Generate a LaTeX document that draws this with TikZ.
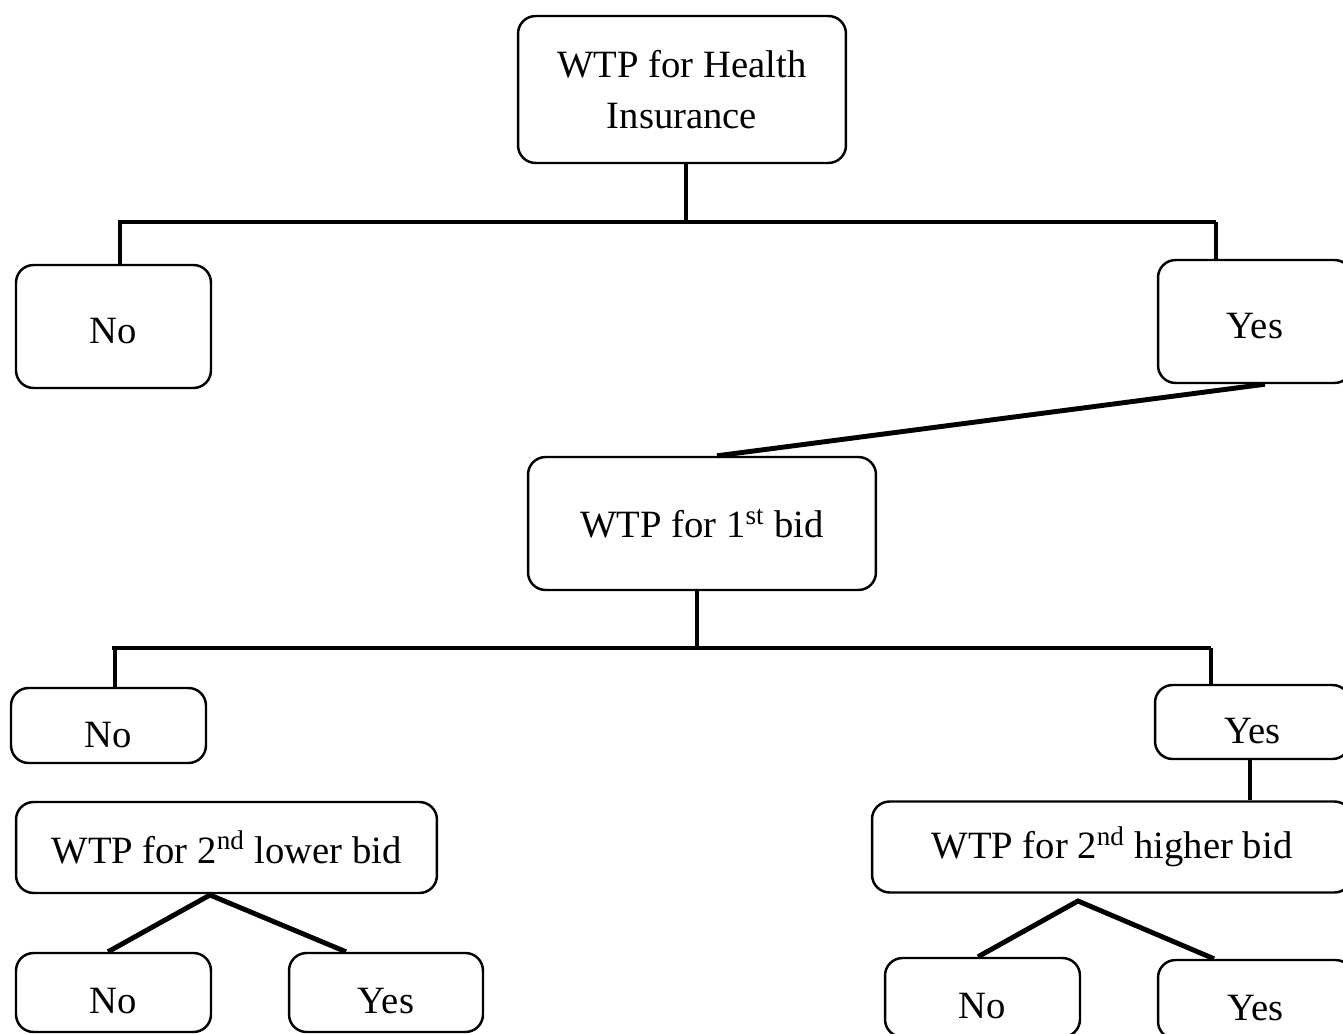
\documentclass[tikz,border=0pt]{standalone}
\usepackage{fontspec}
\setmainfont{Liberation Serif}
\usetikzlibrary{calc}

\tikzset{
    box/.style={draw, line width=1.4pt, rounded corners=10pt, inner sep=0pt,
        align=center, font=\fontsize{22}{29.5}\selectfont},
    dn/.style={text height=#1, text depth=0pt},
    link/.style={line width=2.8pt}
}

\begin{document}
\begin{tikzpicture}[x=0.02cm, y=-0.02cm]

            \useasboundingbox (0,0) rectangle (1343,1034);

            % Top question
            \node[box, minimum width=6.56cm, minimum height=2.94cm] (top) at (682,89.5) {WTP for Health\\Insurance};

            % First answers
            \node[box, dn=19pt, minimum width=3.9cm, minimum height=2.46cm] (no1) at (113.5,326.5) {No};
            \node[box, dn=19pt, minimum width=3.88cm, minimum height=2.46cm] (yes1) at (1255,321.5) {Yes};

            % First bid
            \node[box, minimum width=6.96cm, minimum height=2.66cm] (bid1) at (702,523.5) {WTP for 1\textsuperscript{st} bid};

            % Answers to first bid
            \node[box, dn=25.5pt, minimum width=3.9cm, minimum height=1.5cm] (no2) at (108.5,725.5) {No};
            \node[box, dn=25pt, minimum width=3.9cm, minimum height=1.48cm] (yes2) at (1252.5,722) {Yes};

            % Second bids
            \node[box, minimum width=8.42cm, minimum height=1.82cm] (low) at (226.5,847.5) {WTP for 2\textsuperscript{nd} lower bid};
            \node[box, minimum width=9.6cm, minimum height=1.82cm] (high) at (1112,847) {WTP for 2\textsuperscript{nd} higher bid};

            % Final answers
            \node[box, dn=23.5pt, minimum width=3.9cm, minimum height=1.58cm] (no3) at (113.5,992.5) {No};
            \node[box, dn=23.5pt, minimum width=3.88cm, minimum height=1.58cm] (yes3) at (386,992.5) {Yes};
            \node[box, dn=23.5pt, minimum width=3.9cm, minimum height=1.58cm] (no4) at (982.5,997.5) {No};
            \node[box, dn=23.5pt, minimum width=3.9cm, minimum height=1.58cm] (yes4) at (1255.5,999.5) {Yes};

            % Bar under the top question
            \coordinate (t1) at (686,0);
            \coordinate (b1l) at (120,222);
            \coordinate (b1r) at (1216,222);
            \draw[link] (t1 |- top.south) -- (t1 |- b1l);
            \draw[link] ($(b1l)+(-2,0)$) -- (b1r);
            \draw[link] (b1l) -- (b1l |- no1.north);
            \draw[link] (b1r) -- (b1r |- yes1.north);

            % Yes leads to the first bid
            \draw[link] ($(yes1.south)+(10,0)$) -- ($(bid1.north)+(15,0)$);

            % Bar under the first bid
            \coordinate (t2) at (697,0);
            \coordinate (b2l) at (115,648);
            \coordinate (b2r) at (1211,648);
            \draw[link] (t2 |- bid1.south) -- (t2 |- b2l);
            \draw[link] ($(b2l)+(-3,0)$) -- (b2r);
            \draw[link] (b2l) -- (b2l |- no2.north);
            \draw[link] (b2r) -- (b2r |- yes2.north);
            \coordinate (t3) at (1250,0);
            \draw[link] (t3 |- yes2.south) -- (t3 |- high.north);

            % Branches of the second bids
            \coordinate (lowtip) at (210,895);
            \coordinate (lowl) at (108,0);
            \coordinate (lowr) at (346,0);
            \draw[link] (lowl |- no3.north) -- (lowtip) -- (lowr |- yes3.north);
            \coordinate (hightip) at (1078,901);
            \coordinate (highl) at (978,0);
            \coordinate (highr) at (1214,0);
            \draw[link] (highl |- no4.north) -- (hightip) -- (highr |- yes4.north);

\end{tikzpicture}
\end{document}
